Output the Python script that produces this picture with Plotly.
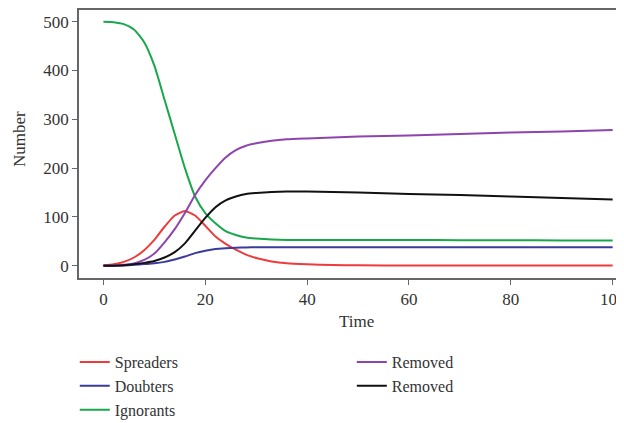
import plotly.graph_objects as go

time = [0, 2, 4, 6, 8, 10, 12, 14, 16, 18, 20, 22, 24, 26, 28, 30, 33, 36, 40, 45, 50, 60, 70, 80, 90, 100]

spreaders = [1, 3, 8, 17, 32, 53, 80, 103, 112, 103, 82, 60, 45, 33, 23, 16, 9, 5, 3, 1.5, 1, 0.5, 0.5, 0.5, 0.5, 0.5]
doubters = [0, 0.2, 0.8, 2, 3.5, 5, 8, 13, 19, 26, 31, 34.5, 36, 37, 37.5, 38, 38, 38, 38, 38, 38, 38, 38, 38, 38, 38]
ignorants = [500, 499, 495, 484, 458, 410, 340, 270, 200, 142, 108, 87, 71, 63, 58, 56, 54, 53, 53, 53, 53, 53, 52.5, 52.5, 52, 52]
removed1 = [0, 0.5, 2, 5, 12, 25, 48, 75, 108, 145, 175, 200, 222, 237, 246, 251, 256, 259, 261, 263, 265, 267, 270, 273, 275, 278]
removed2 = [0, 0.3, 1, 3, 6, 10, 17, 28, 46, 72, 98, 120, 134, 142, 147, 149, 151, 152, 152, 151, 150, 147, 145, 142, 139, 136]

series = [
    ("Spreaders", spreaders, "#EE3B3B", "legend"),
    ("Doubters", doubters, "#3B3B9C", "legend"),
    ("Ignorants", ignorants, "#19A74B", "legend"),
    ("Removed", removed1, "#8E44AD", "legend2"),
    ("Removed", removed2, "#111111", "legend2"),
]

x_ticks = [0, 20, 40, 60, 80, 100]
y_ticks = [0, 100, 200, 300, 400, 500]

FONT = "'Liberation Serif', 'Times New Roman', 'DejaVu Serif', serif"
TXT = "#333333"

fig = go.Figure()
for name, vals, color, lg in series:
    fig.add_trace(go.Scatter(
        x=time, y=vals, mode="lines", name=name,
        line=dict(color=color, width=2, shape="spline", smoothing=0.6),
        legend=lg,
    ))

axis_common = dict(
    showgrid=False, zeroline=False, showline=True, linecolor="#666666", linewidth=1.5,
    mirror=True, ticks="outside", ticklen=5, tickcolor="#666666", tickwidth=1,
    tickfont=dict(family=FONT, size=17, color=TXT), ticklabeloverflow="allow",
)

fig.update_layout(
    width=624, height=423,
    margin=dict(l=71, r=0, t=2, b=153, autoexpand=False),
    paper_bgcolor="white", plot_bgcolor="white",
    font=dict(family=FONT, size=17, color=TXT),
    xaxis=dict(range=[-4.8, 103.8], tickvals=x_ticks, tickangle=0, **axis_common),
    yaxis=dict(range=[-25, 524], tickvals=y_ticks, **axis_common),
    annotations=[
        dict(text="Number", xref="paper", yref="paper", x=-0.1067, y=0.5187,
             xanchor="center", yanchor="middle", textangle=-90, showarrow=False,
             font=dict(family=FONT, size=17, color=TXT)),
        dict(text="Time", xref="paper", yref="paper", x=0.5027, y=-0.164,
             xanchor="center", yanchor="middle", showarrow=False,
             font=dict(family=FONT, size=17, color=TXT)),
    ],
    legend=dict(xref="container", yref="container", x=0.107, y=0.203, xanchor="left", yanchor="top",
                orientation="v", font=dict(family=FONT, size=16, color=TXT),
                bgcolor="rgba(0,0,0,0)", tracegroupgap=0),
    legend2=dict(xref="container", yref="container", x=0.551, y=0.203, xanchor="left", yanchor="top",
                 orientation="v", font=dict(family=FONT, size=16, color=TXT),
                 bgcolor="rgba(0,0,0,0)", tracegroupgap=0),
)

fig.write_html("out.html")
